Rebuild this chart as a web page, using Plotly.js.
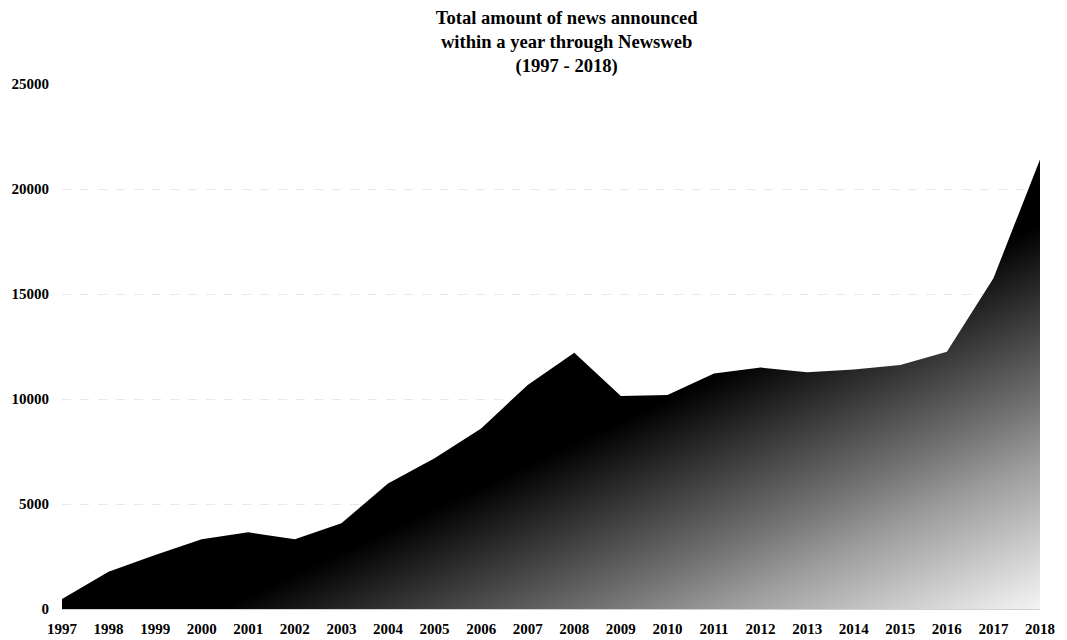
<!DOCTYPE html>
<html>
<head>
<meta charset="utf-8">
<script src="https://cdn.plot.ly/plotly-3.0.1.min.js"></script>
<style>html,body{margin:0;padding:0;background:#fff;}#chart{width:1067px;height:640px;}</style>
</head>
<body>
<div id="chart"></div>
<script>
var years = [1997,1998,1999,2000,2001,2002,2003,2004,2005,2006,2007,2008,2009,2010,2011,2012,2013,2014,2015,2016,2017,2018];
var newsCount = [480,1770,2570,3320,3650,3320,4080,5980,7180,8600,10670,12200,10140,10190,11220,11500,11270,11410,11620,12250,15750,21410];
var yTicks = [0,5000,10000,15000,20000,25000];
var titleLines = ['Total amount of news announced','within a year through Newsweb','(1997 - 2018)'];

var serifBold = 'Liberation Serif, Times New Roman, serif';

var trace = {
  x: years,
  y: newsCount,
  type: 'scatter',
  mode: 'lines',
  fill: 'tozeroy',
  line: {width: 0, color: '#000'},
  fillgradient: {type: 'horizontal', colorscale: [[0,'#000000'],[1,'#ffffff']]},
  hoverinfo: 'x+y'
};

var layout = {
  width: 1067,
  height: 640,
  margin: {l: 62, r: 27, t: 84, b: 31},
  paper_bgcolor: '#fff',
  plot_bgcolor: '#fff',
  showlegend: false,
  title: {
    text: '<b>' + titleLines.join('<br>') + '</b>',
    font: {family: serifBold, size: 18.6, color: '#000'},
    x: 0.516, xref: 'paper', xanchor: 'center',
    y: 0.9625, yref: 'container', yanchor: 'top'
  },
  xaxis: {
    range: [1997, 2018],
    tickmode: 'array',
    tickvals: years,
    ticktext: years.map(function(y){return '<b>' + y + '</b>';}),
    showgrid: false,
    zeroline: false,
    showline: true,
    linecolor: '#d0d0d0',
    linewidth: 1,
    ticks: '',
    ticklabelstandoff: 6,
    tickfont: {family: serifBold, size: 15, color: '#000'}
  },
  yaxis: {
    range: [0, 25000],
    tickmode: 'array',
    tickvals: yTicks,
    ticktext: yTicks.map(function(v){return '<b>' + v + '</b>';}),
    showgrid: true,
    gridcolor: '#e8e8e8',
    griddash: 'dash',
    gridwidth: 1,
    zeroline: false,
    showline: false,
    ticks: '',
    ticklabelstandoff: 12,
    tickfont: {family: serifBold, size: 15, color: '#000'}
  }
};

function fixGradient(gd) {
  var sz = gd._fullLayout._size;
  var w = sz.w, h = sz.h;
  var grads = gd.querySelectorAll('linearGradient');
  grads.forEach(function(g) {
    g.setAttribute('gradientUnits', 'userSpaceOnUse');
    g.setAttribute('x1', (0.850 * w).toFixed(1));
    g.setAttribute('y1', (0.399 * h).toFixed(1));
    g.setAttribute('x2', (1.004 * w).toFixed(1));
    g.setAttribute('y2', (1.011 * h).toFixed(1));
    while (g.firstChild) g.removeChild(g.firstChild);
    var stops = [[0,'#000000'],[0.45,'#737373'],[0.6,'#9c9c9c'],[0.9,'#e2e2e2'],[1,'#f8f8f8']];
    stops.forEach(function(s){
      var st = document.createElementNS('http://www.w3.org/2000/svg','stop');
      st.setAttribute('offset', (s[0]*100) + '%');
      st.setAttribute('stop-color', s[1]);
      g.appendChild(st);
    });
  });
}

var gd = document.getElementById('chart');
Plotly.newPlot(gd, [trace], layout, {displayModeBar: false, staticPlot: true}).then(function(){
  fixGradient(gd);
  gd.on('plotly_afterplot', function(){ fixGradient(gd); });
});
</script>
</body>
</html>
